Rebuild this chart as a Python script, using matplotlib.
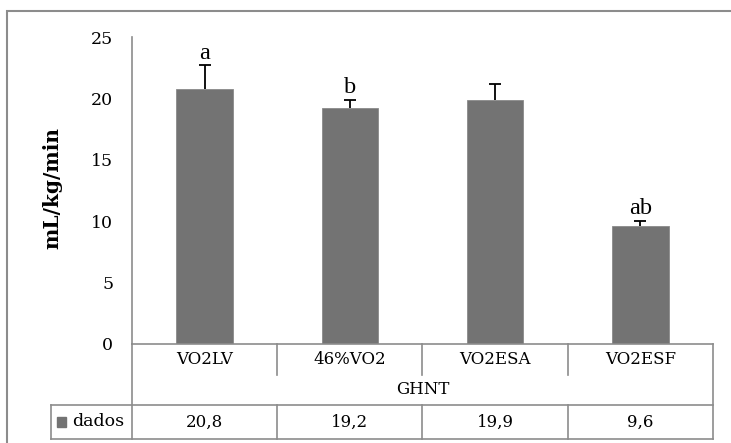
import matplotlib
matplotlib.use("Agg")
import matplotlib.pyplot as plt
from matplotlib.patches import Rectangle
from matplotlib.lines import Line2D
import matplotlib.transforms as mtransforms

categories = ["VO2LV", "46%VO2", "VO2ESA", "VO2ESF"]
values = [20.8, 19.2, 19.9, 9.6]
errors = [1.9, 0.7, 1.3, 0.45]
letters = ["a", "b", "", "ab"]
value_labels = ["20,8", "19,2", "19,9", "9,6"]
group_label = "GHNT"
series_name = "dados"
y_ticks = [0, 5, 10, 15, 20, 25]
y_label = "mL/kg/min"

W, H = 731, 443
FONT = "DejaVu Serif"
FS = 12
GRID = "#8c8c8c"
BAR = "#737373"

fig = plt.figure(figsize=(W / 100, H / 100), dpi=100)

# outer chart frame
fig.patches.append(Rectangle((7 / W, -0.05), 1.05, 1 - 11 / H + 0.05,
                             transform=fig.transFigure, fill=False,
                             edgecolor=GRID, linewidth=1.5))

left, right, top, bottom = 132, 713, 37, 344
ax = fig.add_axes([left / W, 1 - bottom / H, (right - left) / W, (bottom - top) / H])

x = list(range(len(categories)))
ax.bar(x, values, width=0.39, color=BAR, edgecolor="#8a8a8a", linewidth=0.6, zorder=2)
tops = [v + e for v, e in zip(values, errors)]
ax.vlines(x, values, tops, color="black", linewidth=1.3, zorder=3)
ax.plot(x, tops, linestyle="none", marker="_", markersize=8.5,
        markeredgewidth=1.3, color="black", zorder=3)
for xi, tp, t in zip(x, tops, letters):
    if t:
        ax.annotate(t, (xi, tp), xytext=(0, 4.5), textcoords="offset points",
                    ha="center", va="baseline", fontsize=17.5, family="Liberation Serif")

ax.set_xlim(-0.5, len(categories) - 0.5)
ax.set_ylim(0, 25)
ax.set_yticks(y_ticks)
ax.set_yticklabels([str(t) for t in y_ticks], family=FONT, fontsize=FS + 0.5)
ax.tick_params(axis="y", length=0, pad=13.5)
ax.set_xticks([])
for s in ["top", "right"]:
    ax.spines[s].set_visible(False)
ax.spines["left"].set_color(GRID)
ax.spines["bottom"].set_color(GRID)
ax.spines["left"].set_linewidth(1.2)
ax.spines["bottom"].set_linewidth(1.2)

fig.text(52 / W, 1 - 188 / H, y_label, rotation=90, ha="center", va="center",
         family=FONT, fontsize=FS + 2.5, fontweight="bold")

# data table below the axis
ah = bottom - top
def ya(py):
    return -(py - bottom) / ah

trans = mtransforms.blended_transform_factory(ax.transData, ax.transAxes)
y_cat, y_grp, y_row, y_end = ya(344), ya(375), ya(405), ya(439)
kw = dict(color=GRID, linewidth=1.2, clip_on=False)
n = len(categories)
for xb in [i + 0.5 for i in range(n - 1)]:
    ax.add_line(Line2D([xb, xb], [y_cat, y_grp], transform=trans, **kw))
    ax.add_line(Line2D([xb, xb], [y_row, y_end], transform=trans, **kw))
for xb in [-0.5, n - 0.5]:
    ax.add_line(Line2D([xb, xb], [y_cat, y_end], transform=trans, **kw))
lx = (51 - left) / (right - left)
for yy in [y_row, y_end]:
    ax.add_line(Line2D([lx, 1], [yy, yy], transform=ax.transAxes, **kw))
ax.add_line(Line2D([lx, lx], [y_row, y_end], transform=ax.transAxes, **kw))

for xi, c, vl in zip(x, categories, value_labels):
    ax.text(xi, (y_cat + y_grp) / 2, c, transform=trans, ha="center", va="center",
            family=FONT, fontsize=FS)
    ax.text(xi, (y_row + y_end) / 2, vl, transform=trans, ha="center", va="center",
            family=FONT, fontsize=FS)
ax.text((n - 1) / 2, (y_grp + y_row) / 2, group_label, transform=trans,
        ha="center", va="center", family=FONT, fontsize=FS)

# legend key in table
sw = 9 / (right - left)
ax.add_patch(Rectangle(((57 - left) / (right - left), ya(427)), sw, 10 / ah,
                       transform=ax.transAxes, color=BAR, clip_on=False))
ax.text((72 - left) / (right - left), (y_row + y_end) / 2, series_name,
        transform=ax.transAxes, ha="left", va="center", family=FONT, fontsize=FS + 0.5)

fig.savefig("out.png", dpi=100)
